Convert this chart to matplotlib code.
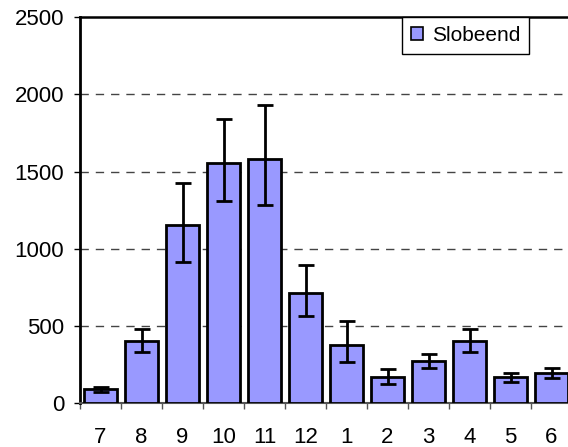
import matplotlib
matplotlib.use("Agg")
import matplotlib.pyplot as plt
import numpy as np
from matplotlib.ticker import FixedLocator

plt.rcParams['font.family'] = ['Liberation Sans', 'DejaVu Sans']

months = ['7', '8', '9', '10', '11', '12', '1', '2', '3', '4', '5', '6']
values = [90, 403, 1153, 1555, 1581, 712, 376, 170, 272, 403, 169, 194]
err_low = [73, 334, 917, 1309, 1281, 567, 269, 127, 231, 334, 141, 166]
err_high = [104, 479, 1426, 1838, 1933, 896, 533, 222, 321, 479, 194, 231]
series_name = 'Slobeend'
yticks = [0, 500, 1000, 1500, 2000, 2500]

W, H = 568, 447
fig = plt.figure(figsize=(W / 100, H / 100), dpi=100)
ax = fig.add_axes([80 / W, (H - 403.3) / H, 492 / W, 386.3 / H])

x = np.arange(len(months))
vals = np.array(values)
lo = vals - np.array(err_low)
hi = np.array(err_high) - vals

ax.bar(x, vals, width=0.8, color='#9999FF', edgecolor='black', linewidth=2,
       label=series_name, zorder=3)
ax.errorbar(x, vals, yerr=[lo, hi], fmt='none', ecolor='black', elinewidth=2,
            capsize=5.6, capthick=2, zorder=4)

ax.set_xlim(-0.5, len(months) - 0.5)
ax.set_ylim(0, 2500)
ax.set_yticks(yticks)
ax.set_xticks(x)
ax.set_xticklabels(months)
ax.xaxis.set_minor_locator(FixedLocator(np.arange(-0.5, len(months), 1.0)))
ax.tick_params(axis='x', which='major', length=0, pad=17, labelsize=16)
ax.tick_params(axis='x', which='minor', length=4, width=1, color='#555555')
ax.tick_params(axis='y', length=4.5, width=1, pad=7, labelsize=16)

for gy in yticks[1:-1]:
    ax.axhline(gy, color='#444444', linewidth=1, dashes=(6, 5), zorder=1)

ax.spines['left'].set_linewidth(2)
ax.spines['top'].set_linewidth(1.8)
ax.spines['bottom'].set_linewidth(1.5)
ax.spines['bottom'].set_color('#555555')
ax.spines['right'].set_visible(False)

leg = ax.legend(loc='upper left', bbox_to_anchor=(402 / W, 1 - 17 / H),
                bbox_transform=fig.transFigure, borderaxespad=0,
                fontsize=15, frameon=True, fancybox=False, framealpha=1,
                edgecolor='black', handlelength=0.6, handleheight=0.6,
                handletextpad=0.4, borderpad=0.42)
leg.get_frame().set_linewidth(1)
for h in leg.legend_handles:
    h.set_linewidth(1.2)

fig.savefig('out.png', dpi=100)
